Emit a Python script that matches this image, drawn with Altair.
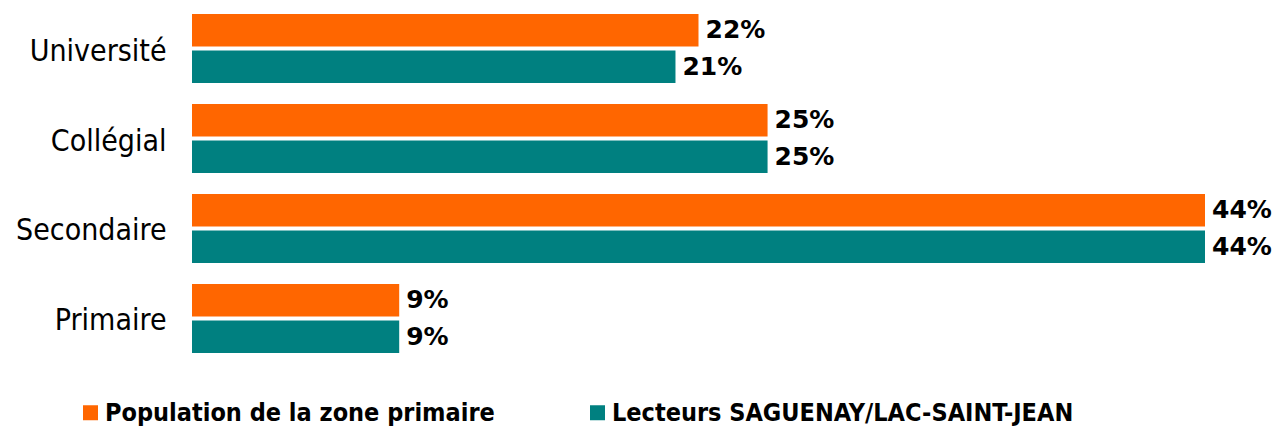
import altair as alt
import pandas as pd

categories = ["Université", "Collégial", "Secondaire", "Primaire"]
series = ["Population de la zone primaire", "Lecteurs SAGUENAY/LAC-SAINT-JEAN"]
population = [22, 25, 44, 9]
lecteurs = [21, 25, 44, 9]
colors = ["#FF6600", "#008080"]

rows = []
for c, p, l in zip(categories, population, lecteurs):
    rows.append({"cat": c, "serie": series[0], "val": p, "lab": f"{p}%"})
    rows.append({"cat": c, "serie": series[1], "val": l, "lab": f"{l}%"})
df = pd.DataFrame(rows)

y = alt.Y("cat:N", sort=categories, title=None,
          scale=alt.Scale(paddingInner=0.233, paddingOuter=0.011),
          axis=alt.Axis(domain=False, ticks=False, labelFont="DejaVu Sans Condensed",
                        labelFontSize=30, labelColor="#000000", labelPadding=26,
                        labelLimit=400, labelOffset=3))
yoff = alt.YOffset("serie:N", sort=series, scale=alt.Scale(paddingInner=0.11, paddingOuter=0))
x = alt.X("val:Q", scale=alt.Scale(domain=[0, 44], nice=False, zero=True), axis=None, title=None)

bars = alt.Chart(df).mark_bar().encode(
    x=x, y=y, yOffset=yoff,
    color=alt.Color("serie:N", sort=series,
                    scale=alt.Scale(domain=series, range=colors),
                    legend=alt.Legend(title=None, orient="none", legendX=-114, legendY=387,
                                      direction="horizontal", columns=2,
                                      symbolType="square", symbolSize=225,
                                      symbolStrokeWidth=0, labelOffset=2,
                                      labelFont="DejaVu Sans Condensed", labelFontWeight="bold",
                                      labelFontSize=25, labelColor="#000000",
                                      columnPadding=90, labelLimit=600)),
)

text = alt.Chart(df).mark_text(align="left", baseline="middle", dx=7,
                               font="DejaVu Sans", fontWeight="bold", fontSize=25,
                               color="#000000").encode(
    x=x, y=alt.Y("cat:N", sort=categories), yOffset=yoff, text="lab:N")

chart = alt.layer(bars, text).properties(
    width=1013, height=341,
    autosize=alt.AutoSizeParams(type="none"),
    padding={"left": 184, "top": 5, "right": 68, "bottom": 72},
).configure(background="#ffffff").configure_view(strokeWidth=0, stroke="transparent")

chart.save("out.html", embed_options={"renderer": "svg", "actions": False})
